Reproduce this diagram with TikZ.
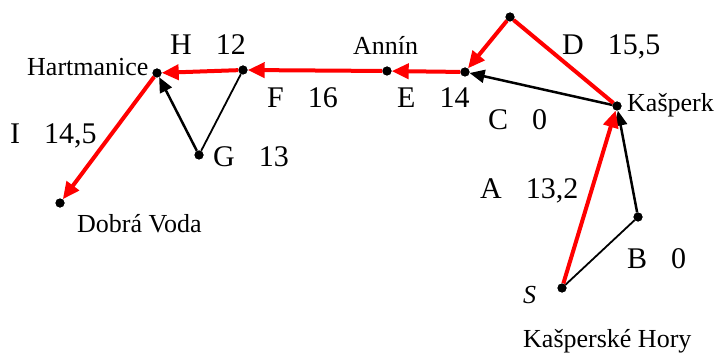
\documentclass[tikz,border=0pt]{standalone}
\usepackage{fontspec}
\setmainfont{Liberation Serif}
\usetikzlibrary{arrows.meta}
\begin{document}
\begin{tikzpicture}[x=1pt,y=-1pt,
  pt/.style={circle,fill=black,inner sep=0pt,minimum size=9pt},
  big/.style={font=\fontsize{30}{30}\selectfont, inner sep=0pt, anchor=base west},
  small/.style={font=\fontsize{26}{26}\selectfont, inner sep=0pt, anchor=base west},
  redarr/.style={draw=red, line width=4pt, -{Triangle[length=17pt,width=15pt]}},
  redln/.style={draw=red, line width=4pt},
  blkarr/.style={draw=black, line width=2.5pt, -{Triangle[length=15pt,width=13pt]}},
  blkln/.style={draw=black, line width=1.8pt}]
\useasboundingbox (0,0) rectangle (716,353);
% points
\node[pt] (S) at (562,288) {};
\node[pt] (B) at (638,217) {};
\node[pt] (K) at (617,106) {};
\node[pt] (D) at (510,17) {};
\node[pt] (E) at (465,72) {};
\node[pt] (An) at (387,71) {};
\node[pt] (F) at (243,70) {};
\node[pt] (H) at (157,73) {};
\node[pt] (G) at (199,155) {};
\node[pt] (DV) at (60,203) {};
% black connectors
\draw[blkln] (S) -- (B);
\draw[blkarr] (B) -- (K);
\draw[blkarr] (K) -- (E);
\draw[blkln] (F) -- (G);
\draw[blkarr] (G) -- (H);
% red connectors
\draw[redarr] (S) -- (K);
\draw[redln] (K) -- (D);
\draw[redarr] (D) -- (E);
\draw[redarr] (E) -- (An);
\draw[redarr] (An) -- (F);
\draw[redarr] (F) -- (H);
\draw[redarr] (H) -- (DV);
% redraw dots on top
\foreach \p in {S,B,K,D,E,An,F,H,G,DV} \fill (\p) circle (4.5pt);
% labels
\node[big] (lH) at (170,55) {H\hspace{0.8em}12};
\node[small] (lHart) at (27,76) {Hartmanice};
\node[big] (lF) at (267,108) {F\hspace{0.8em}16};
\node[small] (lAn) at (353,55) {Annín};
\node[big] (lE) at (397,108) {E\hspace{0.8em}14};
\node[big] (lC) at (488,130) {C\hspace{0.8em}0};
\node[big] (lD) at (562,55) {D\hspace{0.8em}15,5};
\node[small] (lK) at (627,112) {Kašperk};
\node[big] (lI) at (10,143) {I\hspace{0.8em}14,5};
\node[big] (lG) at (213,167) {G\hspace{0.8em}13};
\node[small] (lDV) at (77,233) {Dobrá Voda};
\node[big] (lA) at (480,198) {A\hspace{0.8em}13,2};
\node[big] (lB) at (627,268) {B\hspace{0.8em}0};
\node[small] (lS) at (523,303) {\textit{S}};
\node[small] (lKH) at (523,347) {Kašperské Hory};
\end{tikzpicture}
\end{document}
